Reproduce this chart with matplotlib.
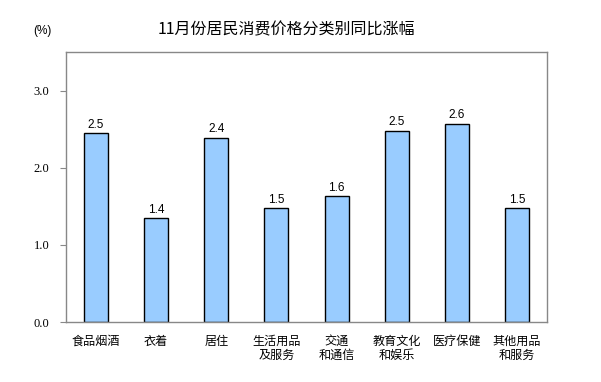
import matplotlib
matplotlib.use("Agg")
import matplotlib.pyplot as plt

plt.rcParams['font.family'] = ['Noto Sans CJK SC', 'DejaVu Sans']

categories = ["食品烟酒", "衣着", "居住", "生活用品\n及服务", "交通\n和通信", "教育文化\n和娱乐", "医疗保健", "其他用品\n和服务"]
values = [2.45, 1.35, 2.39, 1.48, 1.63, 2.48, 2.57, 1.48]
value_labels = ["2.5", "1.4", "2.4", "1.5", "1.6", "2.5", "2.6", "1.5"]
yticks = [0.0, 1.0, 2.0, 3.0]
ytick_labels = ["0.0", "1.0", "2.0", "3.0"]

fig = plt.figure(figsize=(6.01, 3.82), dpi=100)
ax = fig.add_axes([0.1098, 0.157, 0.8003, 0.707])

x = list(range(len(categories)))
ax.bar(x, values, width=0.4, color="#99CCFF", edgecolor="black", linewidth=1.0)
for xi, v, lab in zip(x, values, value_labels):
    ax.text(xi, v + 0.03, lab, ha="center", va="bottom", fontsize=8.5,
            family=["Liberation Sans", "DejaVu Sans"])

ax.set_xlim(-0.5, len(categories) - 0.5)
ax.set_ylim(0, 3.5)
ax.set_yticks(yticks)
ax.set_yticklabels(ytick_labels, family=["Liberation Serif", "DejaVu Serif"], fontsize=9)
ax.set_xticks(x)
ax.set_xticklabels(categories, fontsize=8.7, linespacing=1.1)
ax.tick_params(axis="x", length=0, pad=9)
ax.tick_params(axis="y", length=4, direction="out", color="#888888", pad=8)
for s in ax.spines.values():
    s.set_color("#888888")
    s.set_linewidth(1.0)

fig.text(0.476, 0.922, "11月份居民消费价格分类别同比涨幅", ha="center", va="center", fontsize=11.5)
fig.text(0.07, 0.918, "(%)", ha="center", va="center", fontsize=8.5,
         family=["Liberation Sans", "DejaVu Sans"])

fig.savefig("out.png", dpi=100)
